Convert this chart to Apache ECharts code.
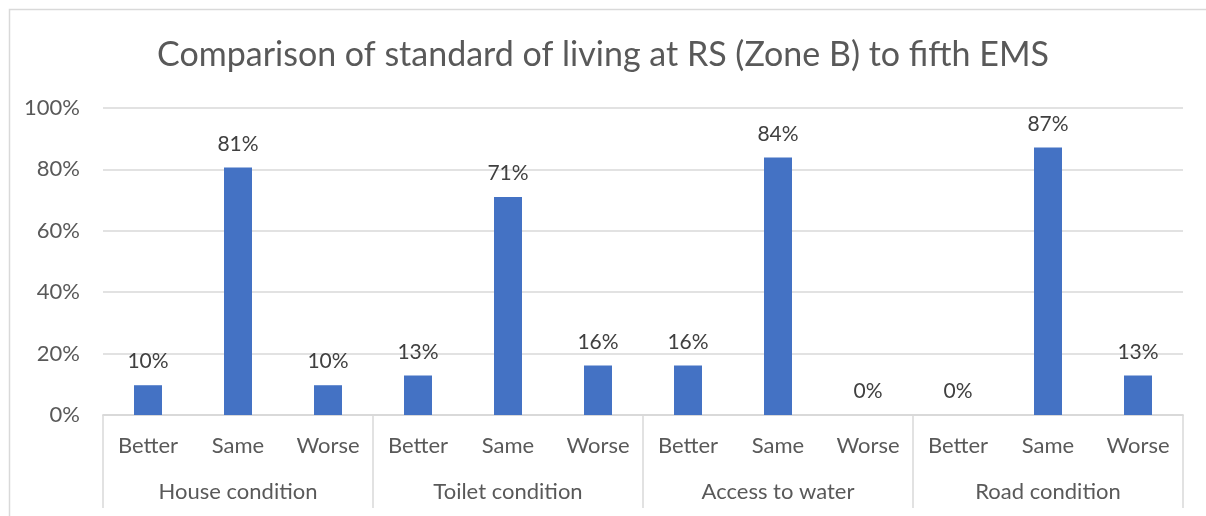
<!DOCTYPE html>
<html>
<head>
<meta charset="utf-8">
<script src="https://cdn.jsdelivr.net/npm/echarts@6/dist/echarts.min.js"></script>
<style>
  html, body { margin: 0; padding: 0; background: #fff; }
  #main { width: 1206px; height: 516px; }
</style>
</head>
<body>
<div id="main"></div>
<script>
// 数据
var subCats = ['Better', 'Same', 'Worse', 'Better', 'Same', 'Worse', 'Better', 'Same', 'Worse', 'Better', 'Same', 'Worse'];
var groupCats = ['House condition', 'Toilet condition', 'Access to water', 'Road condition'];
var values = [9.7, 80.6, 9.7, 12.9, 71.0, 16.1, 16.1, 83.9, 0, 0, 87.1, 12.9];
var yTicks = [0, 20, 40, 60, 80, 100];

var myChart = echarts.init(document.getElementById('main'));
var font = 'Lato, "Open Sans", sans-serif';

var option = {
    animation: false,
    backgroundColor: '#fff',
    title: {
        text: 'Comparison of standard of living at RS (Zone B) to fifth EMS',
        left: 'center',
        top: 33,
        textStyle: { fontFamily: font, fontSize: 34, fontWeight: 'normal', color: '#595959' }
    },
    grid: { left: 103, right: 23, top: 108, bottom: 101 },
    graphic: [
        {   // 外框
            type: 'rect',
            shape: { x: 9.5, y: 9.5, width: 1210, height: 520 },
            style: { fill: 'none', stroke: '#d9d9d9', lineWidth: 1.5 }
        }
    ],
    xAxis: [
        {
            type: 'category',
            data: subCats,
            position: 'bottom',
            axisLine: { lineStyle: { color: '#d9d9d9', width: 1.5 } },
            axisTick: { show: false },
            axisLabel: { margin: 20, fontFamily: font, fontSize: 22, color: '#595959', interval: 0 }
        },
        {
            type: 'category',
            data: groupCats,
            position: 'bottom',
            axisLine: { lineStyle: { color: '#d9d9d9', width: 1.5 } },
            axisTick: { show: true, length: 93, lineStyle: { color: '#d9d9d9', width: 1.5 } },
            axisLabel: { margin: 66, fontFamily: font, fontSize: 22, color: '#595959', interval: 0 }
        }
    ],
    yAxis: {
        type: 'value',
        min: yTicks[0],
        max: yTicks[yTicks.length - 1],
        interval: 20,
        axisLine: { show: false },
        axisTick: { show: false },
        splitLine: { lineStyle: { color: '#d9d9d9', width: 1.5 } },
        axisLabel: {
            margin: 23,
            fontFamily: font, fontSize: 22, color: '#595959',
            formatter: function (v) { return v + '%'; }
        }
    },
    series: [
        {
            type: 'bar',
            xAxisIndex: 0,
            data: values,
            barWidth: 28,
            itemStyle: { color: '#4472C4' },
            label: {
                show: true,
                position: 'top',
                distance: 13,
                fontFamily: font, fontSize: 21, color: '#404040',
                formatter: function (p) { return Math.round(p.value) + '%'; }
            }
        }
    ]
};
myChart.setOption(option);
</script>
</body>
</html>
